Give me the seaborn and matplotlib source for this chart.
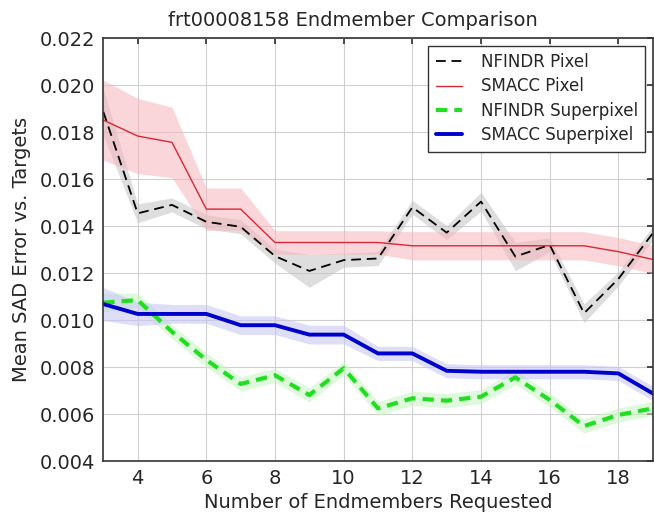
import numpy as np
import pandas as pd
import matplotlib
matplotlib.use("Agg")
import matplotlib.pyplot as plt
import seaborn as sns

endmembers = list(range(3, 20))

nfindr_pixel = [0.01886, 0.01454, 0.0149, 0.01418, 0.01397, 0.01272, 0.01209, 0.01255, 0.01262,
                0.0148, 0.01372, 0.01504, 0.0127, 0.0132, 0.01029, 0.01175, 0.01369]
nfindr_pixel_err = [0.0010, 0.0004, 0.0003, 0.0003, 0.0003, 0.0003, 0.0007, 0.0003, 0.0003,
                    0.0003, 0.0003, 0.0004, 0.0006, 0.0003, 0.0004, 0.0003, 0.0003]

smacc_pixel = [0.01851, 0.01783, 0.01756, 0.01472, 0.01472, 0.0133, 0.0133, 0.0133, 0.0133,
               0.01316, 0.01316, 0.01316, 0.01316, 0.01316, 0.01316, 0.01291, 0.01258]
smacc_pixel_err = [0.0017, 0.0016, 0.0015, 0.0009, 0.0009, 0.0005, 0.0005, 0.0005, 0.0005,
                   0.0006, 0.0006, 0.0006, 0.0006, 0.0006, 0.0006, 0.0006, 0.0006]

nfindr_super = [0.01074, 0.01085, 0.0095, 0.0083, 0.00728, 0.00765, 0.00681, 0.00795, 0.00624,
                0.00667, 0.00657, 0.00674, 0.00756, 0.0066, 0.00549, 0.00596, 0.00624]
nfindr_super_err = [0.0004, 0.0003, 0.0003, 0.0003, 0.0003, 0.0003, 0.0003, 0.0003, 0.0003,
                    0.0003, 0.0003, 0.0003, 0.0003, 0.0003, 0.0003, 0.0003, 0.0003]

smacc_super = [0.01068, 0.01026, 0.01026, 0.01026, 0.00978, 0.00978, 0.00938, 0.00938, 0.00858,
               0.00858, 0.00784, 0.0078, 0.0078, 0.0078, 0.0078, 0.00773, 0.00688]
smacc_super_err = [0.0007, 0.0005, 0.0004, 0.0004, 0.0004, 0.0004, 0.0004, 0.0004, 0.0003,
                   0.0003, 0.0003, 0.0003, 0.0003, 0.0003, 0.0003, 0.0003, 0.0003]

series = [
    ("NFINDR Pixel", nfindr_pixel, nfindr_pixel_err, "black", "#c4c4c4", (0, (5.4, 3.2)), 1.3),
    ("SMACC Pixel", smacc_pixel, smacc_pixel_err, "#d62836", "#f7b3bb", "-", 1.0),
    ("NFINDR Superpixel", nfindr_super, nfindr_super_err, "#22dd22", "#c6f5c0", (0, (2.7, 1.7)), 3.0),
    ("SMACC Superpixel", smacc_super, smacc_super_err, "#0000cc", "#c4c4f5", "-", 2.8),
]

sns.set_theme(style="whitegrid")
plt.rcParams["font.family"] = ["DejaVu Sans"]

fig = plt.figure(figsize=(6.54, 5.14), dpi=100)
ax = fig.add_axes([0.158, 0.103, 0.84, 0.823])

x = np.array(endmembers)
for name, vals, err, col, fcol, ls, lw in series:
    v = np.array(vals)
    e = np.array(err)
    ax.fill_between(x, v - e, v + e, color=fcol, alpha=0.55, linewidth=0)
for name, vals, err, col, fcol, ls, lw in series:
    df = pd.DataFrame({"x": endmembers, "y": vals})
    sns.lineplot(data=df, x="x", y="y", ax=ax, color=col, linestyle=ls, linewidth=lw, label=name)

ax.set_xlim(3, 19)
ax.set_ylim(0.004, 0.022)
ax.set_xticks([4, 6, 8, 10, 12, 14, 16, 18])
ax.set_yticks(np.arange(0.004, 0.0221, 0.002))
ax.yaxis.set_major_formatter(matplotlib.ticker.FormatStrFormatter("%.3f"))
ax.set_title("frt00008158 Endmember Comparison", fontsize=14, pad=8.5, x=0.455)
ax.set_xlabel("Number of Endmembers Requested", fontsize=14, labelpad=3)
ax.set_ylabel("Mean SAD Error vs. Targets", fontsize=14, labelpad=6)
ax.tick_params(axis="both", labelsize=14, direction="in", length=4, top=True, right=True,
               color="#333333", pad=6)
ax.grid(True, color="#d0d0d0", linewidth=0.8)
for s in ax.spines.values():
    s.set_color("#333333")
    s.set_linewidth(1.2)

leg = ax.legend(loc="upper right", fontsize=12, frameon=True, fancybox=False,
                edgecolor="#333333", framealpha=1, handlelength=1.6, handletextpad=1.1,
                borderpad=0.45, labelspacing=0.38, borderaxespad=0.45)
leg.get_frame().set_linewidth(1.0)

fig.savefig("out.png", dpi=100)
